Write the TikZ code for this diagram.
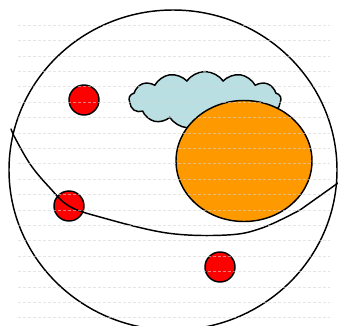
\documentclass[tikz,border=0pt]{standalone}
\usepackage{tikz}
\usetikzlibrary{shapes.geometric,shapes.symbols}
\usepackage{xcolor}
\definecolor{dotred}{HTML}{FF0000}
\definecolor{sunorange}{HTML}{FF9900}
\definecolor{cloudblue}{HTML}{B9DFE3}
\definecolor{ruled}{HTML}{D4D4D4}
\tikzset{
  outline/.style={draw=black,line width=1.45pt},
  world/.style={outline,ellipse,inner sep=0pt,minimum width=328pt,minimum height=320pt},
  dot/.style={outline,circle,fill=dotred,inner sep=0pt,minimum size=30pt},
  sun/.style={outline,ellipse,fill=sunorange,inner sep=0pt,minimum width=136pt,minimum height=121pt},
  puff/.style={outline,cloud,cloud puffs=13,cloud puff arc=110,aspect=2.7,fill=cloudblue,
    inner sep=0pt,minimum width=152pt,minimum height=57pt},
  rule/.style={draw=ruled,densely dashed,line width=0.3pt,opacity=0.6},
  horizon/.style={outline,line cap=round}
}
\begin{document}
\begin{tikzpicture}[x=1pt,y=-1pt]
  \useasboundingbox (0,0) rectangle (338,325);
  \clip (0,0) rectangle (338,325);
  \node[world] (w) at (173,170) {};
  \node[dot] (d1) at (84,100) {};
  \node[dot] (d2) at (69,206) {};
  \node[dot] (d3) at (220,267) {};
  \node[puff] (c) at (205,100) {};
  \node[sun] (s) at (244,161) {};
  % curve across the world
  \coordinate (hl) at (11,129);
  \coordinate (hr) at (338,183);
  \draw[horizon] (hl) -- (13,134)
    plot[smooth,tension=0.6] coordinates {(13,134) (30,164) (50,188) (69,206) (100,217)
      (167,233) (227,235) (262,228) (300,210)} -- (hr);
  % ruled background
  \foreach \k in {0,...,19}
    \draw[rule] (18,{25+15.4*\k}) -- (330,{25+15.4*\k});
\end{tikzpicture}
\end{document}
